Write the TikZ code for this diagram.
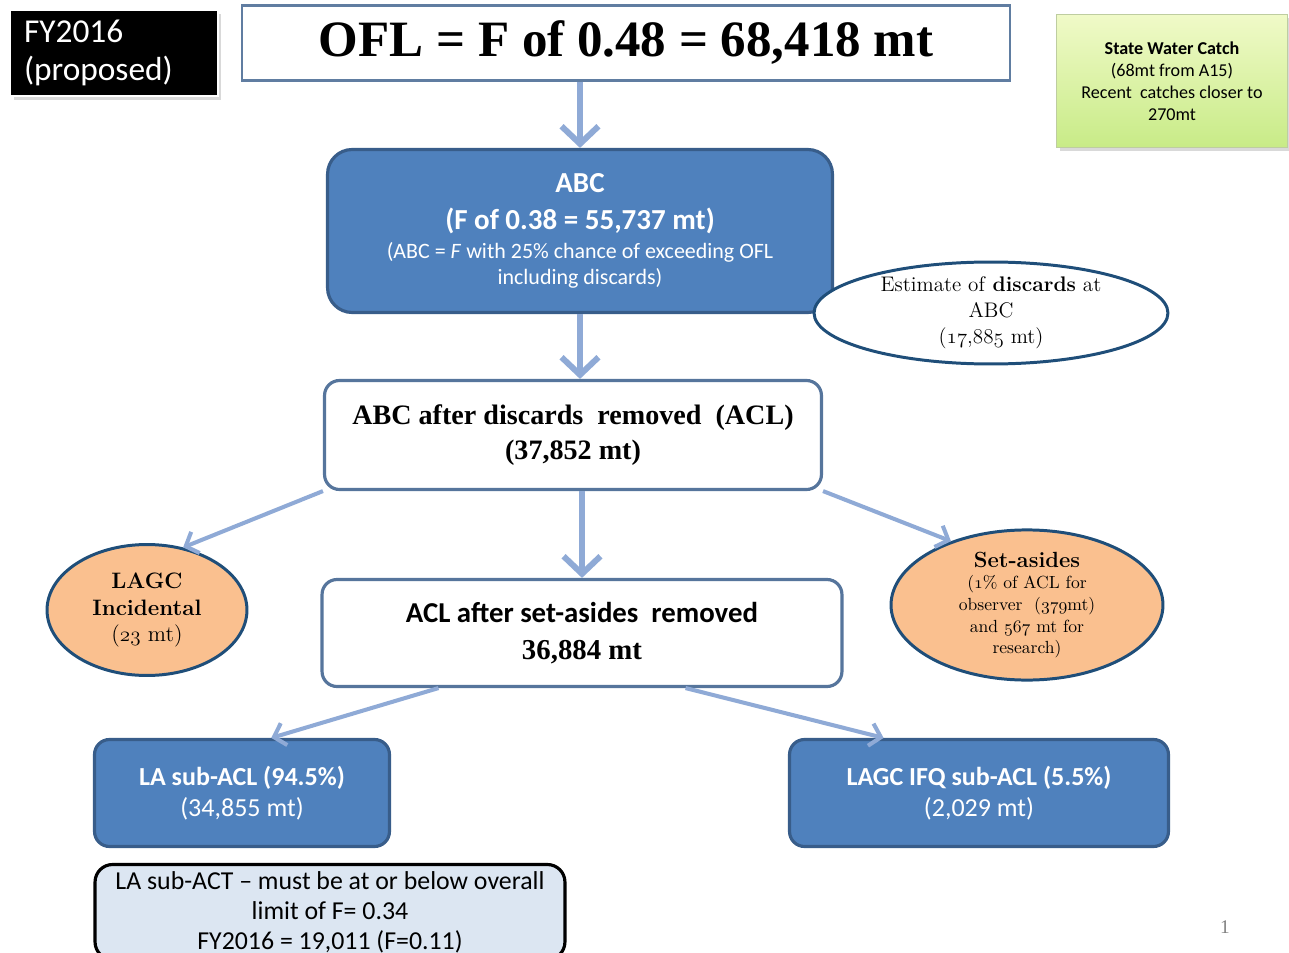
\documentclass[tikz,border=0pt]{standalone}
\usepackage{fontspec}
\usetikzlibrary{arrows.meta,shapes.geometric,shadows}
\newfontfamily\calib{Carlito}
\newfontfamily\timesb{Liberation Serif}
\newcommand\osnum[1]{{\usefont{OML}{cmm}{m}{it}#1}}
\definecolor{boxblue}{RGB}{79,129,189}
\definecolor{edgeblue}{RGB}{56,93,138}
\definecolor{ringblue}{RGB}{31,78,121}
\definecolor{arrowblue}{RGB}{143,170,214}
\definecolor{peach}{RGB}{250,192,143}
\definecolor{actfill}{RGB}{220,230,242}
\definecolor{swctop}{RGB}{240,250,200}
\definecolor{swcbottom}{RGB}{200,235,135}
\definecolor{swcedge}{RGB}{190,205,160}

\begin{document}
\begin{tikzpicture}[x=0.02cm,y=-0.02cm]
					\useasboundingbox (0,0) rectangle (1289,953);
					
					\begin{scope}[every node/.style={rectangle,inner sep=0pt,align=center}]
						\node[fill=black,draw=white,line width=1pt,drop shadow={opacity=0.3,shadow xshift=2pt,shadow yshift=-2pt},minimum width=4.16cm,minimum height=1.72cm,text=white,text width=3.6cm,align=left,font=\calib\fontsize{19}{22}\selectfont] (fy) at (114,53) {FY2016\\(proposed)};
						\node[fill=white,draw=edgeblue!80,line width=1.2pt,minimum width=15.36cm,minimum height=1.5cm,font=\timesb\bfseries\fontsize{29}{32}\selectfont] (ofl) at (626,43) {OFL = F of 0.48 = 68,418 mt};
						\node[top color=swctop,bottom color=swcbottom,draw=swcedge,line width=0.6pt,drop shadow={opacity=0.3,shadow xshift=2pt,shadow yshift=-2pt},minimum width=4.62cm,minimum height=2.66cm,font=\calib\fontsize{10.3}{12.5}\selectfont] (swc) at (1172,81) {\textbf{State Water Catch}\\(68mt from A15)\\Recent~ catches closer to\\270mt};
					\end{scope}
					
					\begin{scope}[every node/.style={rectangle,rounded corners=8.5pt,inner sep=0pt,align=center,line width=1.8pt}]
						\node[fill=boxblue,draw=edgeblue,rounded corners=14pt,minimum width=10.1cm,minimum height=3.26cm,text=white,font=\calib\fontsize{12.5}{14.5}\selectfont] (abc) at (580,231) {\bfseries\fontsize{16.5}{19}\selectfont ABC\\[6.5pt]\bfseries\fontsize{16.5}{19}\selectfont(F of 0.38 = 55,737 mt)\\[2pt]\mdseries\fontsize{12.5}{14.5}\selectfont(ABC = \textit{F} with 25\% chance of exceeding OFL\\\mdseries\fontsize{12.5}{14.5}\selectfont including discards)};
						\node[fill=white,draw=edgeblue!85,minimum width=9.94cm,minimum height=2.18cm,font=\timesb\bfseries\fontsize{16}{19.5}\selectfont] (acl) at (573,435) {ABC after discards~ removed~ (ACL)\\(37,852 mt)};
						\node[fill=white,draw=edgeblue!85,minimum width=10.4cm,minimum height=2.14cm,font=\bfseries\fontsize{16.4}{21}\selectfont] (sa) at (582,633) {\calib\bfseries ACL after set-asides~ removed\\\timesb\bfseries 36,884 mt};
						\node[fill=boxblue,draw=edgeblue,minimum width=5.9cm,minimum height=2.14cm,text=white,font=\calib\fontsize{14.8}{17.5}\selectfont] (la) at (242,793) {\textbf{LA sub-ACL (94.5\%)}\\(34,855 mt)};
						\node[fill=boxblue,draw=edgeblue,minimum width=7.58cm,minimum height=2.14cm,text=white,font=\calib\fontsize{14.8}{17.5}\selectfont] (ifq) at (979,793) {\textbf{LAGC IFQ sub-ACL (5.5\%)}\\(2,029 mt)};
						\node[fill=actfill,draw=black,rounded corners=10pt,minimum width=9.4cm,minimum height=1.9cm,font=\calib\fontsize{14.7}{17}\selectfont] (act) at (330,912) {LA sub-ACT – must be at or below overall\\limit of F= 0.34\\FY2016 = 19,011 (F=0.11)};
					\end{scope}
					
					\begin{scope}[every node/.style={ellipse,inner sep=0pt,align=center,draw=ringblue,line width=1.7pt}]
						\node[fill=white,minimum width=7.08cm,minimum height=2.04cm,font=\fontsize{12}{14.7}\selectfont] (disc) at (991,313) {Estimate of \textbf{discards} at\\ABC\\(\osnum{17},\osnum{885} mt)};
						\node[fill=peach,minimum width=4cm,minimum height=2.62cm,font=\fontsize{12.7}{14.9}\selectfont] (lagc) at (147,610) {\textbf{LAGC}\\\textbf{Incidental}\\(\osnum{23} mt)};
						\node[fill=peach,minimum width=5.44cm,minimum height=2.88cm,font=\fontsize{10}{12.3}\selectfont] (set) at (1027,605) {\fontsize{12.5}{15}\selectfont\textbf{Set-asides}\\(\osnum{1}\% of ACL for\\observer~ (\osnum{379}mt)\\and \osnum{567} mt for\\research)};
					\end{scope}
					
					\node[text=gray,inner sep=0pt,font=\timesb\fontsize{11}{13}\selectfont] (pg) at (1225,927) {1};
					
					\begin{scope}[every edge/.style={draw,arrowblue,line width=3.4pt,-{Straight Barb[length=10pt,width=21pt]}}]
						\path (abc.north |- ofl.south) edge (abc.north);
						\path (abc.south) edge (abc.south |- acl.north);
						\path (acl.south -| sa.north) edge (sa.north);
					\end{scope}
					
					\begin{scope}[every edge/.style={draw,arrowblue,line width=2.3pt,-{Straight Barb[length=6pt,width=13pt]}}]
						\path (acl.south west) edge (lagc.60);
						\path (acl.south east) edge (set.140);
						\path (sa.-159) edge (la.62);
						\path (sa.-28) edge (ifq.150);
					\end{scope}
				\end{tikzpicture}
\end{document}
